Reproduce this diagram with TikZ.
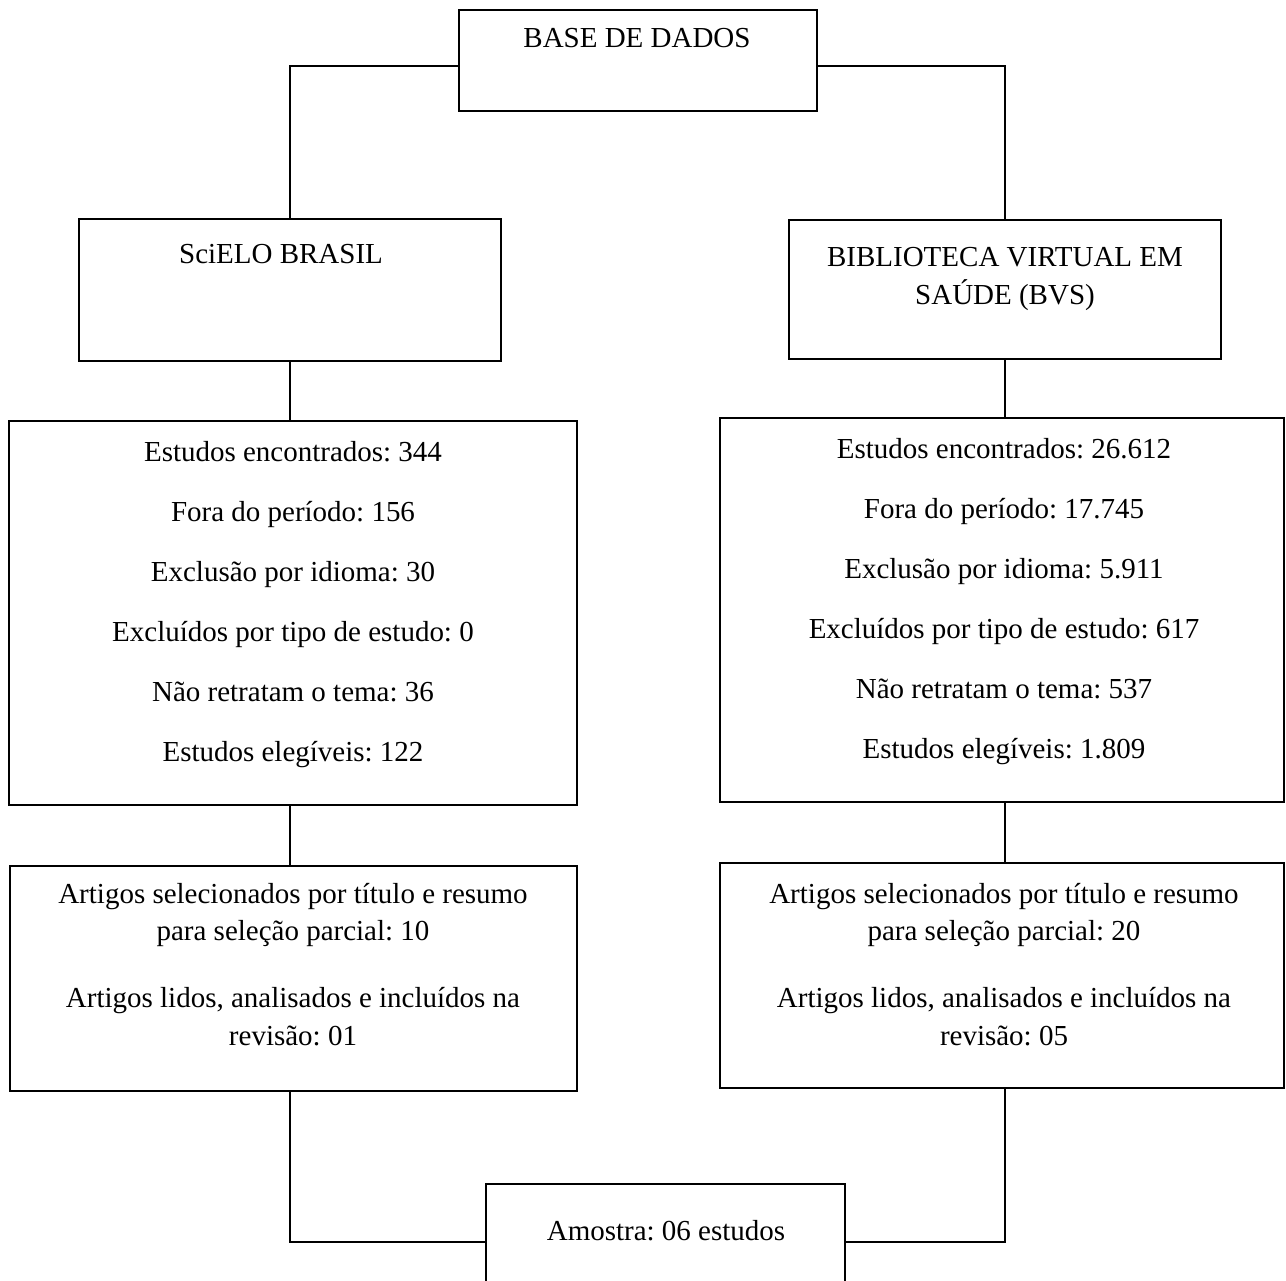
\documentclass[tikz,border=0pt]{standalone}
\usepackage{fontspec}
\setmainfont{Liberation Serif}
\frenchspacing
\tikzset{
  box/.style={draw, line width=1.2pt, inner sep=0pt},
  txt/.style={align=center, anchor=base, inner sep=0pt, font=\fontsize{16.5}{21.6}\selectfont},
  link/.style={line width=1.2pt}
}
\begin{document}
\begin{tikzpicture}[x=0.02cm, y=-0.02cm]
\useasboundingbox (0,0) rectangle (1286,1281);
% caixas
\node[box, minimum width=7.16cm, minimum height=2.02cm] (base) at (638,60.5) {};
\node[box, minimum width=8.44cm, minimum height=2.84cm] (scielo) at (290,290) {};
\node[box, minimum width=8.64cm, minimum height=2.78cm] (bvs) at (1005,289.5) {};
\node[box, minimum width=11.36cm, minimum height=7.68cm] (scieloN) at (293,613) {};
\node[box, minimum width=11.28cm, minimum height=7.68cm] (bvsN) at (1002,610) {};
\node[box, minimum width=11.34cm, minimum height=4.5cm] (scieloA) at (293.5,978.5) {};
\node[box, minimum width=11.28cm, minimum height=4.5cm] (bvsA) at (1002,975.5) {};
\node[box, minimum width=7.18cm, minimum height=2.32cm] (amostra) at (665.5,1242) {};
% textos (base = ultima linha)
\node[txt] (baseT) at (637,47.7) {BASE DE DADOS};
\node[txt] (scieloT) at (281,263) {SciELO BRASIL};
\node[txt] (bvsT) at (1005,304) {BIBLIOTECA VIRTUAL EM\\SAÚDE (BVS)};
\node[txt] (scieloNT) at (293,761) {Estudos encontrados: 344\\[12.5pt]
  Fora do período: 156\\[12.5pt] Exclusão por idioma: 30\\[12.5pt]
  Excluídos por tipo de estudo: 0\\[12.5pt] Não retratam o tema: 36\\[12.5pt]
  Estudos elegíveis: 122};
\node[txt] (bvsNT) at (1004,758) {Estudos encontrados: 26.612\\[12.5pt]
  Fora do período: 17.745\\[12.5pt] Exclusão por idioma: 5.911\\[12.5pt]
  Excluídos por tipo de estudo: 617\\[12.5pt] Não retratam o tema: 537\\[12.5pt]
  Estudos elegíveis: 1.809};
\node[txt] (scieloAT) at (293,1045) {Artigos selecionados por título e resumo\\
  para seleção parcial: 10\\[16pt] Artigos lidos, analisados e incluídos na\\
  revisão: 01};
\node[txt] (bvsAT) at (1004,1045) {Artigos selecionados por título e resumo\\
  para seleção parcial: 20\\[16pt] Artigos lidos, analisados e incluídos na\\
  revisão: 05};
\node[txt] (amostraT) at (666,1240) {Amostra: 06 estudos};
% ligacoes
\draw[link] ([yshift=-0.11cm]base.west) -| (scielo.north);
\draw[link] ([yshift=-0.11cm]base.east) -| (bvs.north);
\draw[link] (scielo.south) -- (scieloN.north -| scielo.south);
\draw[link] (bvs.south) -- (bvsN.north -| bvs.south);
\draw[link] (scieloN.south -| scielo.south) -- (scieloA.north -| scielo.south);
\draw[link] (bvsN.south -| bvs.south) -- (bvsA.north -| bvs.south);
\draw[link] (scieloA.south -| scielo.south) |- (amostra.west);
\draw[link] (bvsA.south -| bvs.south) |- (amostra.east);
\end{tikzpicture}
\end{document}
